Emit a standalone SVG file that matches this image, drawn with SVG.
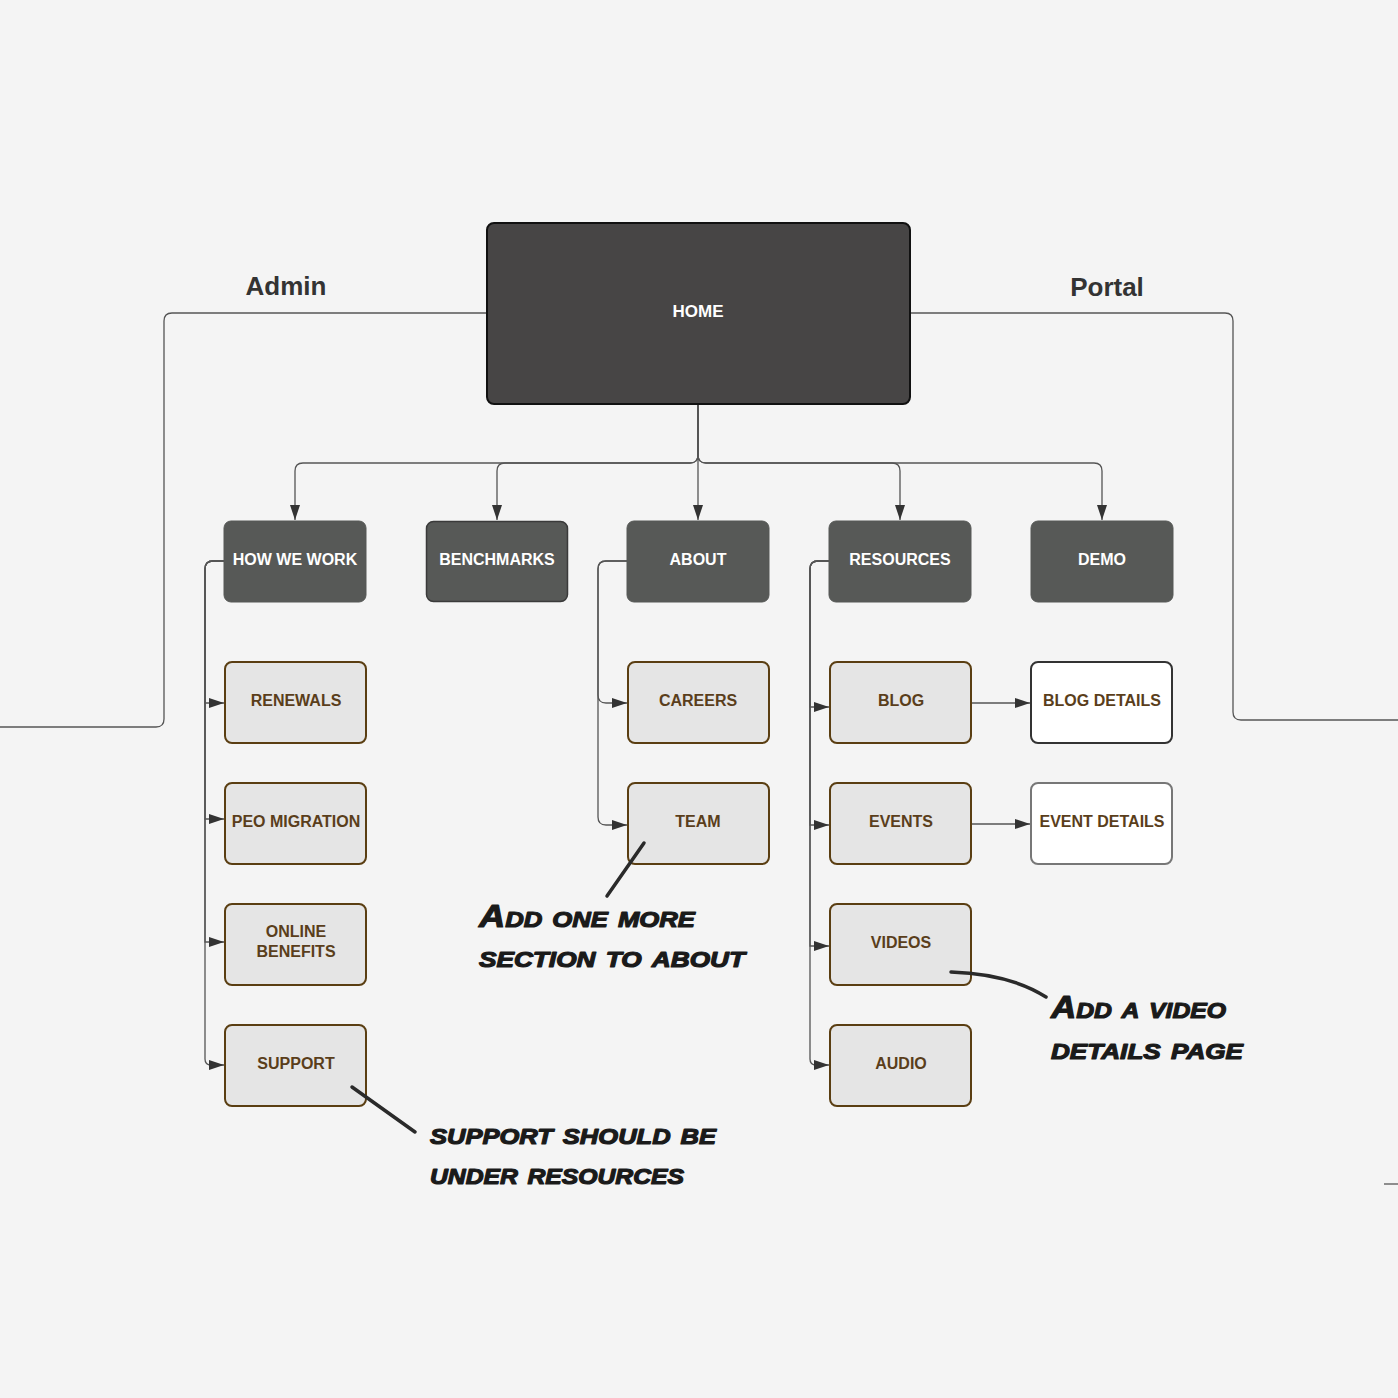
<svg xmlns="http://www.w3.org/2000/svg" width="1398" height="1398" viewBox="0 0 1398 1398">
<defs>
<marker id="arr" markerUnits="userSpaceOnUse" markerWidth="16" markerHeight="12" refX="15" refY="6" orient="auto">
<path d="M0,1 L15,6 L0,11 z" fill="#333"/>
</marker>
<style>
.bg{fill:#f4f4f4}
.conn path{fill:none;stroke:#555;stroke-width:1.3}
.conn .arr{marker-end:url(#arr)}
.top rect{fill:#575957;stroke:#575957;stroke-width:1}
.top text{fill:#fff;font-family:"Liberation Sans",Arial,sans-serif;font-weight:bold;font-size:16px;text-anchor:middle;dominant-baseline:central}
.child rect{fill:#e5e5e5;stroke:#5a3e12;stroke-width:2}
.child text,.det text{fill:#5a3e1b;font-family:"Liberation Sans",Arial,sans-serif;font-weight:bold;font-size:16px;text-anchor:middle;dominant-baseline:central}
.det rect{fill:#fff;stroke-width:2}
.side{fill:#333;font-family:"Liberation Sans",Arial,sans-serif;font-weight:bold;font-size:26px;text-anchor:middle}
.note text{fill:#1a1a1a;stroke:#1a1a1a;stroke-width:1.2;stroke-linejoin:round;font-family:"Liberation Sans",Arial,sans-serif;font-weight:bold;font-style:italic;font-variant:small-caps;font-size:31px}
.note path{fill:none;stroke:#2a2a2a;stroke-width:3.5;stroke-linecap:round}
</style>
</defs>
<rect class="bg" x="0" y="0" width="1398" height="1398"/>

<g id="connectors" class="conn">
<path d="M487,313 H172 Q164,313 164,321 V719 Q164,727 156,727 H0"/>
<path d="M910,313 H1225 Q1233,313 1233,321 V712 Q1233,720 1241,720 H1398"/>
<path d="M1384,1184 H1398"/>
<path class="arr" d="M698,404 V455 Q698,463 690,463 H303 Q295,463 295,471 V520"/>
<path class="arr" d="M698,404 V455 Q698,463 690,463 H505 Q497,463 497,471 V520"/>
<path class="arr" d="M698,404 V520"/>
<path class="arr" d="M698,404 V455 Q698,463 706,463 H892 Q900,463 900,471 V520"/>
<path class="arr" d="M698,404 V455 Q698,463 706,463 H1094 Q1102,463 1102,471 V520"/>
<path class="arr" d="M224,561 H213 Q205,561 205,569 V703 H224"/>
<path class="arr" d="M224,561 H213 Q205,561 205,569 V819 H224"/>
<path class="arr" d="M224,561 H213 Q205,561 205,569 V942 H224"/>
<path class="arr" d="M224,561 H213 Q205,561 205,569 V1059 Q205,1065 211,1065 H224"/>
<path class="arr" d="M627,561 H606 Q598,561 598,569 V695 Q598,703 606,703 H627"/>
<path class="arr" d="M627,561 H606 Q598,561 598,569 V817 Q598,825 606,825 H627"/>
<path class="arr" d="M829,561 H818 Q810,561 810,569 V707 H829"/>
<path class="arr" d="M829,561 H818 Q810,561 810,569 V825 H829"/>
<path class="arr" d="M829,561 H818 Q810,561 810,569 V946 H829"/>
<path class="arr" d="M829,561 H818 Q810,561 810,569 V1059 Q810,1065 816,1065 H829"/>
<path class="arr" d="M971,703 H1030"/>
<path class="arr" d="M971,824 H1030"/>
</g>

<text class="side" x="286" y="295">Admin</text>
<text class="side" x="1107" y="296">Portal</text>

<g id="home">
<rect x="487" y="223" width="423" height="181" rx="7" fill="#474545" stroke="#111" stroke-width="2"/>
<text x="698" y="311" fill="#fff" font-family="Liberation Sans, Arial, sans-serif" font-weight="bold" font-size="17" text-anchor="middle" dominant-baseline="central">HOME</text>
</g>

<g id="how-we-work" class="top"><rect x="224" y="521" width="142" height="81" rx="7"/><text x="295" y="559">HOW WE WORK</text></g>
<g id="benchmarks" class="top"><rect x="426.5" y="521.5" width="141" height="80" rx="7" style="stroke:#3a3a3a;stroke-width:1.5"/><text x="497" y="559">BENCHMARKS</text></g>
<g id="about" class="top"><rect x="627" y="521" width="142" height="81" rx="7"/><text x="698" y="559">ABOUT</text></g>
<g id="resources" class="top"><rect x="829" y="521" width="142" height="81" rx="7"/><text x="900" y="559">RESOURCES</text></g>
<g id="demo" class="top"><rect x="1031" y="521" width="142" height="81" rx="7"/><text x="1102" y="559">DEMO</text></g>

<g id="renewals" class="child"><rect x="225" y="662" width="141" height="81" rx="7"/><text x="296" y="700">RENEWALS</text></g>
<g id="peo-migration" class="child"><rect x="225" y="783" width="141" height="81" rx="7"/><text x="296" y="821">PEO MIGRATION</text></g>
<g id="online-benefits" class="child"><rect x="225" y="904" width="141" height="81" rx="7"/><text x="296" y="931">ONLINE</text><text x="296" y="951">BENEFITS</text></g>
<g id="support" class="child"><rect x="225" y="1025" width="141" height="81" rx="7"/><text x="296" y="1063">SUPPORT</text></g>

<g id="careers" class="child"><rect x="628" y="662" width="141" height="81" rx="7"/><text x="698" y="700">CAREERS</text></g>
<g id="team" class="child"><rect x="628" y="783" width="141" height="81" rx="7"/><text x="698" y="821">TEAM</text></g>

<g id="blog" class="child"><rect x="830" y="662" width="141" height="81" rx="7"/><text x="901" y="700">BLOG</text></g>
<g id="events" class="child"><rect x="830" y="783" width="141" height="81" rx="7"/><text x="901" y="821">EVENTS</text></g>
<g id="videos" class="child"><rect x="830" y="904" width="141" height="81" rx="7"/><text x="901" y="942">VIDEOS</text></g>
<g id="audio" class="child"><rect x="830" y="1025" width="141" height="81" rx="7"/><text x="901" y="1063">AUDIO</text></g>

<g id="blog-details" class="det"><rect x="1031" y="662" width="141" height="81" rx="7" stroke="#333"/><text x="1102" y="700">BLOG DETAILS</text></g>
<g id="event-details" class="det"><rect x="1031" y="783" width="141" height="81" rx="7" stroke="#777"/><text x="1102" y="821">EVENT DETAILS</text></g>

<g id="note-about" class="note">
<path d="M644,843 L607,896"/>
<text x="479" y="927" textLength="216" lengthAdjust="spacingAndGlyphs">Add one more</text>
<text x="479" y="967" textLength="266" lengthAdjust="spacingAndGlyphs">section to about</text>
</g>
<g id="note-support" class="note">
<path d="M352,1087 L415,1132"/>
<text x="430" y="1144" textLength="286" lengthAdjust="spacingAndGlyphs">support should be</text>
<text x="430" y="1184" textLength="254" lengthAdjust="spacingAndGlyphs">under resources</text>
</g>
<g id="note-videos" class="note">
<path d="M951,972 Q1010,974 1046,997"/>
<text x="1051" y="1018" textLength="175" lengthAdjust="spacingAndGlyphs">Add a video</text>
<text x="1051" y="1059" textLength="192" lengthAdjust="spacingAndGlyphs">details page</text>
</g>
</svg>
